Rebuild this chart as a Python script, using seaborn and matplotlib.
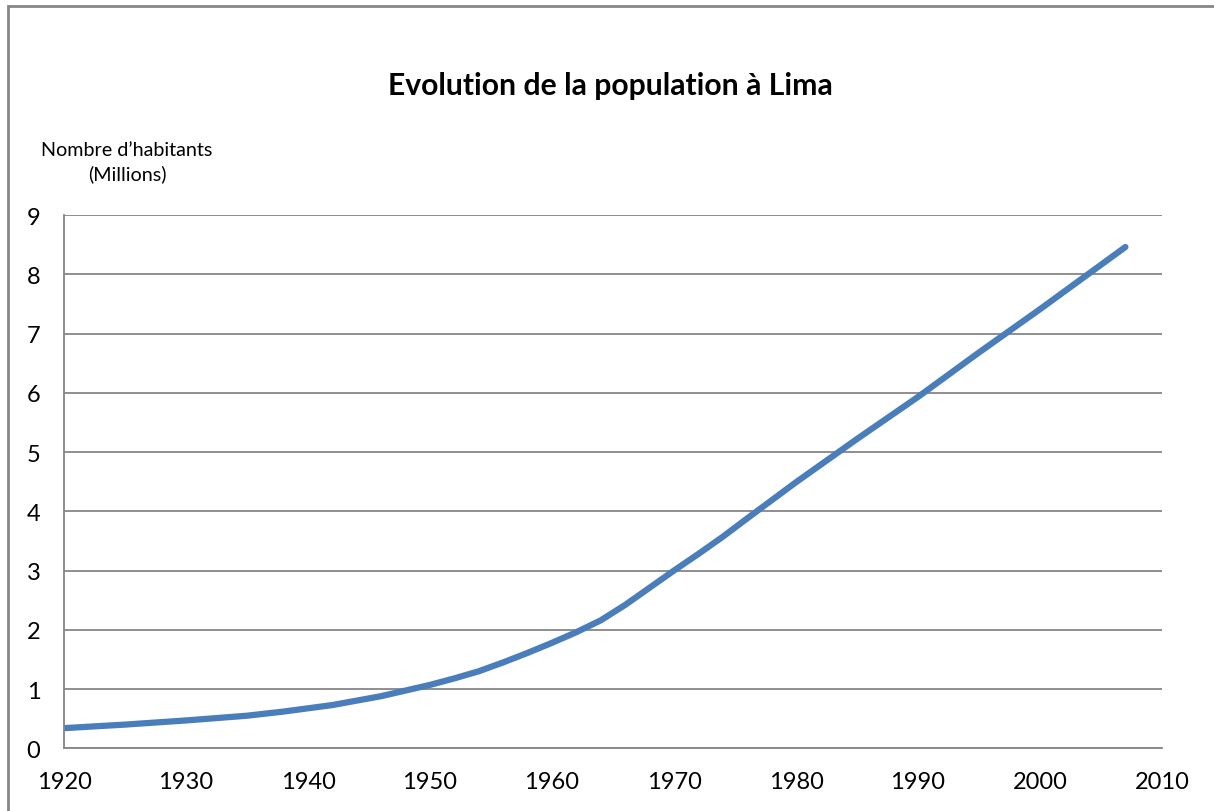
import matplotlib
matplotlib.use('Agg')
import matplotlib.pyplot as plt
import seaborn as sns
import pandas as pd
from matplotlib.patches import Rectangle

# Valeurs (millions d'habitants)
annees = [1920, 1925, 1930, 1935, 1938, 1942, 1946, 1950, 1952, 1954,
          1956, 1958, 1960, 1962, 1964, 1966, 1968, 1970, 1972, 1974,
          1976, 1980, 1985, 1990, 1995, 2000, 2005, 2007]
population = [0.34, 0.40, 0.47, 0.55, 0.62, 0.73, 0.88, 1.07, 1.18, 1.30,
              1.45, 1.61, 1.78, 1.96, 2.16, 2.42, 2.71, 3.0, 3.28, 3.57,
              3.88, 4.49, 5.22, 5.93, 6.68, 7.41, 8.16, 8.46]

x_ticks = [1920, 1930, 1940, 1950, 1960, 1970, 1980, 1990, 2000, 2010]
y_ticks = list(range(0, 10))

df = pd.DataFrame({'annee': annees, 'population': population})

sns.set_style('white')
plt.rcParams['font.family'] = ['Lato', 'DejaVu Sans']

W, H = 1214, 812
fig = plt.figure(figsize=(W / 100, H / 100), dpi=100)
ax = fig.add_axes([64 / W, 1 - 749.3 / H, (1162 - 64) / W, (749.3 - 216) / H])

sns.lineplot(data=df, x='annee', y='population', ax=ax, color='#4a7ebb',
             linewidth=4.5, solid_capstyle='round', solid_joinstyle='round')

ax.set_xlim(1920, 2010)
ax.set_ylim(0, 9)
ax.set_xticks(x_ticks)
ax.set_yticks(y_ticks)
ax.yaxis.grid(True, color='#868686', linewidth=1.3)
ax.xaxis.grid(False)
for s in ['top', 'right']:
    ax.spines[s].set_visible(False)
for s in ['left', 'bottom']:
    ax.spines[s].set_color('#868686')
    ax.spines[s].set_linewidth(1.3)
ax.tick_params(axis='both', direction='out', length=7, width=1.3, color='#868686',
               labelsize=17, labelcolor='black')
ax.tick_params(axis='x', pad=9)
ax.tick_params(axis='y', pad=10)
ax.set_xlabel('')
ax.set_ylabel('')

fig.text(610 / W, 1 - 86 / H, 'Evolution de la population à Lima', ha='center', va='center',
         fontsize=21.7, fontweight='bold', color='black')
fig.text(127 / W, 1 - 151 / H, 'Nombre d’habitants', ha='center', va='center',
         fontsize=14.2, color='black')
fig.text(127 / W, 1 - 174 / H, '(Millions)', ha='center', va='center',
         fontsize=14.2, color='black')

# cadre du graphique
fig.patches.append(Rectangle((7.5 / W, -0.1), 1.2, 1 - 7 / H + 0.1, transform=fig.transFigure,
                             fill=False, edgecolor='#868686', linewidth=2))

fig.savefig('out.png', dpi=100)
